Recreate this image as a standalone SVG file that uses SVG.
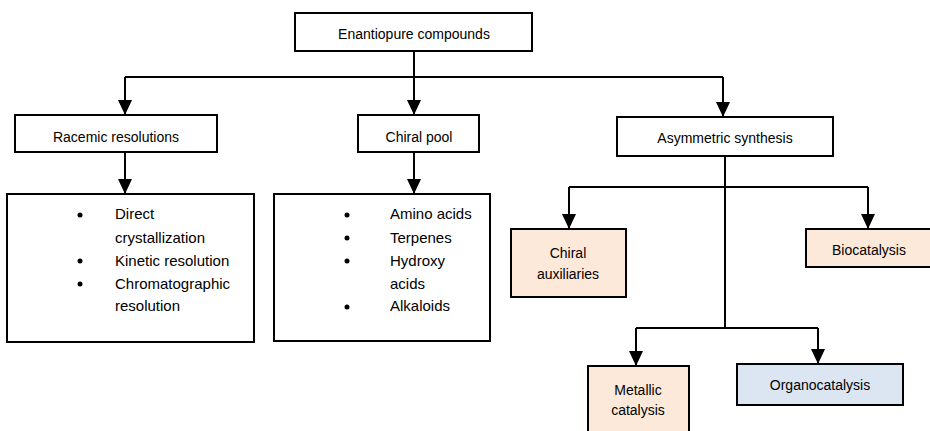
<svg xmlns="http://www.w3.org/2000/svg" width="930" height="431" viewBox="0 0 930 431">
<style>
.box{stroke:#000;stroke-width:2;fill:#fff}
.peach{fill:#fde9d9}
.blue{fill:#dce6f2}
.t{font-family:"Liberation Sans",Arial,sans-serif;font-size:14px;fill:#000;text-anchor:middle}
.l{font-family:"Liberation Sans",Arial,sans-serif;font-size:15px;fill:#000}
.c{stroke:#000;stroke-width:2;fill:none}
.a{marker-end:url(#arr)}
</style>
<defs>
<marker id="arr" viewBox="0 0 15 14" markerWidth="15" markerHeight="14" refX="15" refY="7" orient="auto" markerUnits="userSpaceOnUse">
<path d="M0,0 L15,7 L0,14 z" fill="#000"/>
</marker>
</defs>
<g id="connectors">
<path class="c" d="M414,51 V77 M125,77 H723"/>
<path class="c a" d="M414,77 V115"/>
<path class="c a" d="M125,77 V115"/>
<path class="c a" d="M723,77 V117"/>
<path class="c a" d="M125,152 V194"/>
<path class="c a" d="M414,152 V194"/>
<path class="c" d="M725,156 V328 M569,187 H868 M636,328 H818"/>
<path class="c a" d="M569,187 V229"/>
<path class="c a" d="M868,187 V229"/>
<path class="c a" d="M636,328 V366"/>
<path class="c a" d="M818,328 V364"/>
</g>
<g id="enantiopure">
<rect class="box" x="295" y="13" width="237" height="38"/>
<text class="t" x="414" y="39">Enantiopure compounds</text>
</g>
<g id="racemic">
<rect class="box" x="15" y="115" width="202" height="37"/>
<text class="t" x="116" y="142">Racemic resolutions</text>
</g>
<g id="chiralpool">
<rect class="box" x="358" y="115" width="121" height="37"/>
<text class="t" x="419" y="142">Chiral pool</text>
</g>
<g id="asymmetric">
<rect class="box" x="617" y="117" width="216" height="39"/>
<text class="t" x="725" y="143">Asymmetric synthesis</text>
</g>
<g id="racemic-list">
<rect class="box" x="7" y="194" width="247" height="148"/>
<circle cx="80" cy="215" r="2.5"/>
<circle cx="80" cy="261" r="2.5"/>
<circle cx="80" cy="284" r="2.5"/>
<text class="l" x="115" y="219">Direct</text>
<text class="l" x="115" y="243">crystallization</text>
<text class="l" x="115" y="266">Kinetic resolution</text>
<text class="l" x="115" y="289">Chromatographic</text>
<text class="l" x="115" y="311">resolution</text>
</g>
<g id="chiral-list">
<rect class="box" x="274" y="194" width="216" height="147"/>
<circle cx="347" cy="215" r="2.5"/>
<circle cx="347" cy="238" r="2.5"/>
<circle cx="347" cy="261" r="2.5"/>
<circle cx="347" cy="307" r="2.5"/>
<text class="l" x="390" y="219">Amino acids</text>
<text class="l" x="390" y="243">Terpenes</text>
<text class="l" x="390" y="266">Hydroxy</text>
<text class="l" x="390" y="289">acids</text>
<text class="l" x="390" y="311">Alkaloids</text>
</g>
<g id="chiral-aux">
<rect class="box peach" x="511" y="229" width="115" height="68"/>
<text class="t" x="568" y="258">Chiral</text>
<text class="t" x="568" y="279">auxiliaries</text>
</g>
<g id="biocatalysis">
<rect class="box peach" x="806" y="229" width="130" height="38"/>
<text class="t" x="869" y="255">Biocatalysis</text>
</g>
<g id="metallic">
<rect class="box peach" x="588" y="366" width="101" height="80"/>
<text class="t" x="638" y="395">Metallic</text>
<text class="t" x="638" y="415">catalysis</text>
</g>
<g id="organocatalysis">
<rect class="box blue" x="737" y="364" width="166" height="41"/>
<text class="t" x="820" y="390">Organocatalysis</text>
</g>
</svg>
